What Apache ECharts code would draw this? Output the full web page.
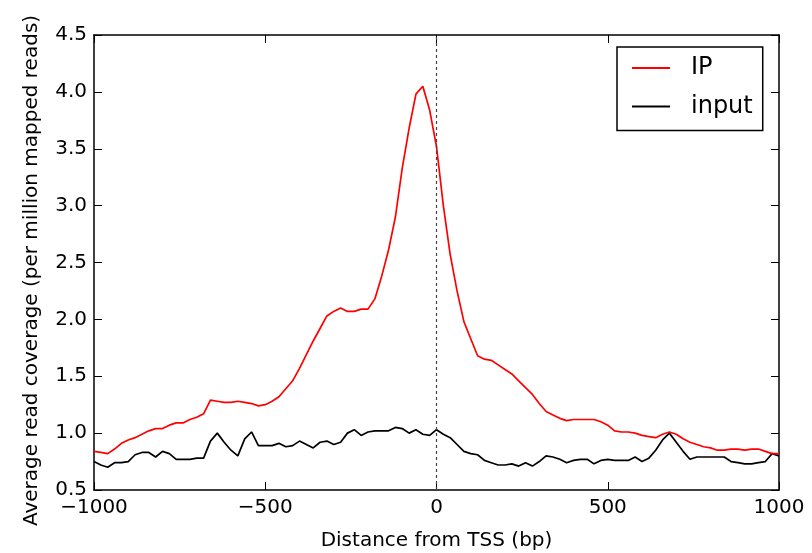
<!DOCTYPE html>
<html>
<head>
<meta charset="utf-8">
<script src="https://cdn.jsdelivr.net/npm/echarts@6/dist/echarts.min.js"></script>
<style>html,body{margin:0;padding:0;background:#fff}#c{width:812px;height:553px}</style>
</head>
<body>
<div id="c"></div>
<script>
// Distance from TSS (bp), step 20
const positions = [];
for (let p = -1000; p <= 1000; p += 20) positions.push(p);

const ipValues = [
  0.84,0.83,0.82,0.86,0.91,0.94,0.96,0.99,1.02,1.04,
  1.04,1.07,1.09,1.09,1.12,1.14,1.17,1.29,1.28,1.27,
  1.27,1.28,1.27,1.26,1.24,1.25,1.28,1.32,1.39,1.46,
  1.57,1.69,1.81,1.92,2.03,2.07,2.10,2.07,2.07,2.09,
  2.09,2.18,2.38,2.61,2.90,3.33,3.68,3.98,4.05,3.84,
  3.52,3.00,2.57,2.25,1.98,1.83,1.68,1.65,1.64,1.60,
  1.56,1.52,1.46,1.40,1.34,1.26,1.19,1.16,1.13,1.11,
  1.12,1.12,1.12,1.12,1.10,1.07,1.02,1.01,1.01,1.00,
  0.98,0.97,0.96,0.99,1.01,0.99,0.95,0.92,0.90,0.88,
  0.87,0.85,0.85,0.86,0.86,0.85,0.86,0.86,0.84,0.82,
  0.82
];
const inputValues = [
  0.75,0.72,0.70,0.74,0.74,0.75,0.81,0.83,0.83,0.79,
  0.84,0.82,0.77,0.77,0.77,0.78,0.78,0.93,1.00,0.92,
  0.85,0.80,0.95,1.01,0.89,0.89,0.89,0.91,0.88,0.89,
  0.93,0.90,0.87,0.92,0.93,0.90,0.92,1.00,1.03,0.98,
  1.01,1.02,1.02,1.02,1.05,1.04,1.00,1.03,0.99,0.98,
  1.03,0.99,0.96,0.90,0.84,0.82,0.81,0.76,0.74,0.72,
  0.72,0.73,0.71,0.74,0.71,0.75,0.80,0.79,0.77,0.74,
  0.76,0.77,0.77,0.73,0.76,0.77,0.76,0.76,0.76,0.79,
  0.75,0.78,0.85,0.94,1.00,0.92,0.84,0.77,0.79,0.79,
  0.79,0.79,0.79,0.75,0.74,0.73,0.73,0.74,0.75,0.82,
  0.80
];
const xTicks = [-1000, -500, 0, 500, 1000];
const yTicks = [0.5, 1.0, 1.5, 2.0, 2.5, 3.0, 3.5, 4.0, 4.5];

const FONT = 'DejaVu Sans';
const chart = echarts.init(document.getElementById('c'), null, {renderer: 'canvas'});

function fmtX(v) { return v < 0 ? '\u2212' + Math.abs(v) : String(v); }

const axisLineStyle = {color: '#000', width: 1.5};
const tickStyle = {show: true, inside: true, length: 8, lineStyle: {color: '#000', width: 1}};
const option = {
  animation: false,
  backgroundColor: '#fff',
  textStyle: {fontFamily: FONT},
  grid: {left: 94, right: 33, top: 35, bottom: 63, containLabel: false, outerBoundsMode: 'none'},
  legend: {
    orient: 'vertical',
    left: 617, top: 47,
    padding: [7, 10, 10, 15],
    itemGap: 10.5,
    itemWidth: 38, itemHeight: 2,
    icon: 'rect',
    borderColor: '#000', borderWidth: 1.5,
    textStyle: {fontFamily: FONT, fontSize: 24, color: '#000', lineHeight: 28, padding: [0, 0, 0, 16]},
    data: ['IP', 'input']
  },
  xAxis: [{
    type: 'value', min: -1000, max: 1000, interval: 500, position: 'bottom',
    name: 'Distance from TSS (bp)', nameLocation: 'middle', nameGap: 41,
    nameTextStyle: {fontFamily: FONT, fontSize: 20, color: '#000'},
    axisLine: {show: true, onZero: false, lineStyle: axisLineStyle},
    axisTick: tickStyle,
    axisLabel: {fontFamily: FONT, fontSize: 20, color: '#000', margin: 8, formatter: fmtX},
    splitLine: {show: false}
  }, {
    type: 'value', min: -1000, max: 1000, interval: 500, position: 'top',
    axisLine: {show: true, onZero: false, lineStyle: axisLineStyle},
    axisTick: tickStyle,
    axisLabel: {show: false}, splitLine: {show: false}
  }],
  yAxis: [{
    type: 'value', min: 0.5, max: 4.5, interval: 0.5, position: 'left',
    name: 'Average read coverage (per million mapped reads)', nameLocation: 'middle', nameGap: 52,
    nameTextStyle: {fontFamily: FONT, fontSize: 20, color: '#000', padding: [0, 16, 0, 0]},
    axisLine: {show: true, onZero: false, lineStyle: axisLineStyle},
    axisTick: tickStyle,
    axisLabel: {fontFamily: FONT, fontSize: 20, color: '#000', margin: 7,
      formatter: v => v.toFixed(1)},
    splitLine: {show: false}
  }, {
    type: 'value', min: 0.5, max: 4.5, interval: 0.5, position: 'right',
    axisLine: {show: true, onZero: false, lineStyle: axisLineStyle},
    axisTick: tickStyle,
    axisLabel: {show: false}, splitLine: {show: false}
  }],
  series: [{
    name: 'IP', type: 'line', xAxisIndex: 0, yAxisIndex: 0,
    data: positions.map((p, i) => [p, ipValues[i]]),
    symbol: 'none', showSymbol: false,
    lineStyle: {color: '#ff0000', width: 1.7},
    itemStyle: {color: '#ff0000'},
    z: 3,
    markLine: {
      silent: true, symbol: ['none', 'none'], label: {show: false},
      lineStyle: {color: '#444', type: [3, 3], width: 1.2},
      emphasis: {disabled: true},
      data: [{xAxis: 0}]
    }
  }, {
    name: 'input', type: 'line', xAxisIndex: 0, yAxisIndex: 0,
    data: positions.map((p, i) => [p, inputValues[i]]),
    symbol: 'none', showSymbol: false,
    lineStyle: {color: '#000000', width: 1.7},
    itemStyle: {color: '#000000'},
    z: 2
  }]
};
chart.setOption(option);
</script>
</body>
</html>
